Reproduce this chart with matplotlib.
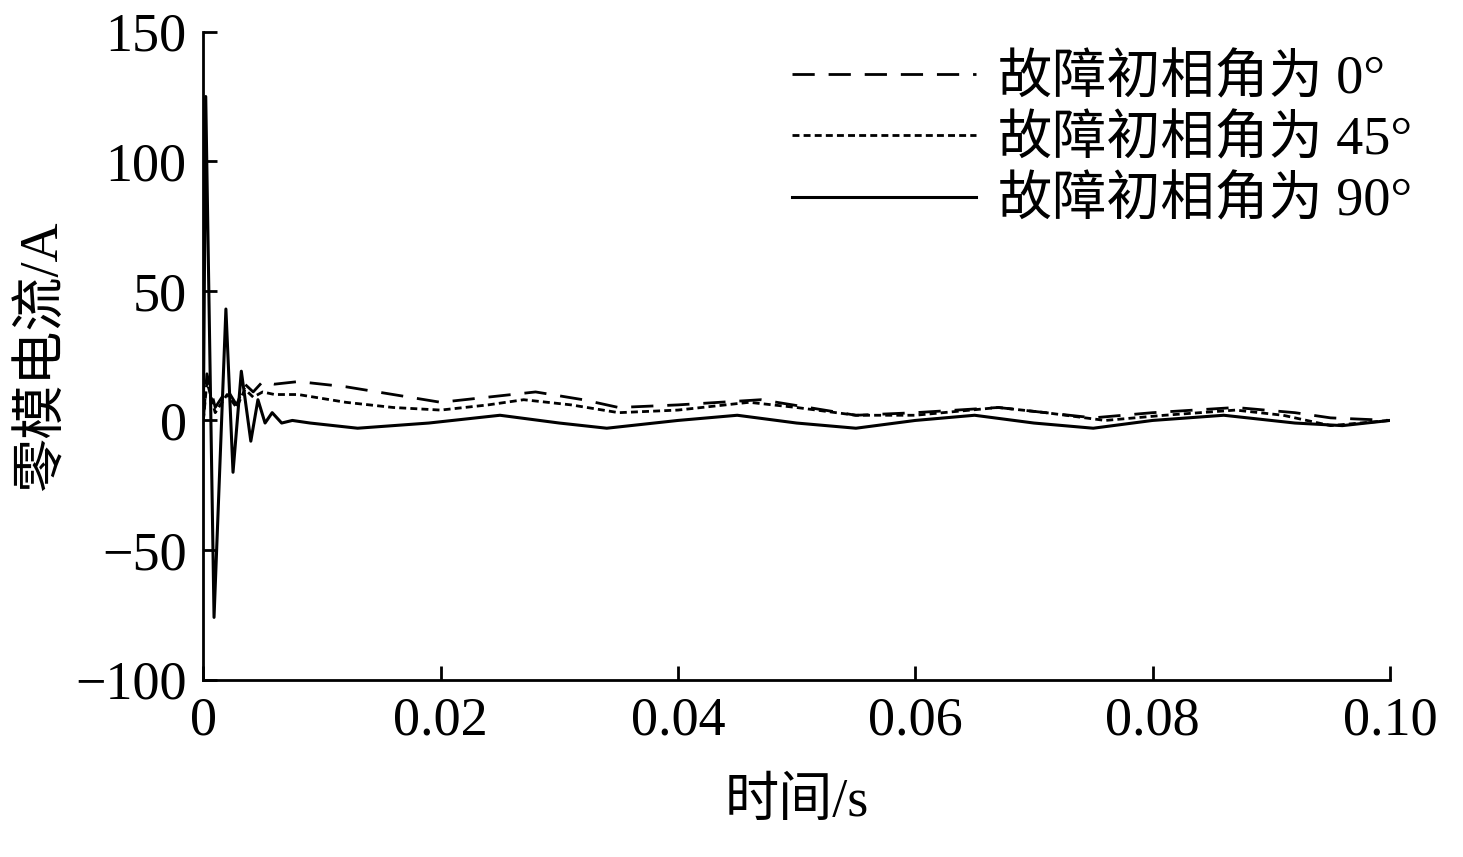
import matplotlib
matplotlib.use("Agg")
import matplotlib.pyplot as plt

plt.rcParams['font.family'] = ['Liberation Serif', 'Noto Sans CJK SC']

t90 = [0, 0.0002, 0.0009, 0.0019, 0.0025, 0.0032, 0.0040, 0.0046, 0.0052, 0.0058, 0.0066, 0.0075,
       0.009, 0.013, 0.019, 0.025, 0.030, 0.034, 0.040, 0.045, 0.050, 0.055, 0.060, 0.065, 0.070,
       0.075, 0.080, 0.086, 0.092, 0.096, 0.100]
i90 = [0, 125, -76, 43, -20, 19, -8, 8, -1, 3, -1, 0,
       -1, -3, -1, 2, -1, -3, 0, 2, -1, -3, 0, 2, -1,
       -3, 0, 2, -1, -2, 0]

t0 = [0, 0.0003, 0.001, 0.002, 0.0028, 0.0035, 0.0042, 0.005, 0.006, 0.008, 0.012, 0.016, 0.020,
      0.024, 0.028, 0.032, 0.035, 0.040, 0.047, 0.051, 0.055, 0.060, 0.067, 0.071, 0.075, 0.080,
      0.087, 0.092, 0.095, 0.100]
i0 = [0, 18, 5, 12, 6, 14, 11, 15, 14, 15, 13, 10, 7,
      9, 11, 8, 5, 6, 8, 5, 2, 3, 5, 3, 1, 3,
      5, 3, 1, 0]

t45 = [0, 0.0003, 0.001, 0.002, 0.0028, 0.0035, 0.0042, 0.005, 0.006, 0.008, 0.012, 0.016, 0.020,
       0.024, 0.027, 0.031, 0.035, 0.040, 0.046, 0.050, 0.055, 0.060, 0.067, 0.071, 0.076, 0.081,
       0.087, 0.091, 0.095, 0.100]
i45 = [0, 15, 3, 10, 5, 12, 9, 11, 10, 10, 7, 5, 4,
       6, 8, 6, 3, 4, 7, 5, 2, 2, 5, 3, 0, 2,
       4, 2, -2, 0]

labels = ['故障初相角为 0°', '故障初相角为 45°', '故障初相角为 90°']

fig = plt.figure(figsize=(14.63, 8.57), dpi=100)
ax = fig.add_axes([0.139, 0.207, 0.811, 0.756])
ax.plot(t0, i0, color='black', lw=2, dashes=(8, 5), label=labels[0])
ax.plot(t45, i45, color='black', lw=2, dashes=(2.5, 1.5), label=labels[1])
ax.plot(t90, i90, color='black', lw=2.2, label=labels[2])

ax.set_xlim(0, 0.10)
ax.set_ylim(-100, 150)
ax.set_xticks([0, 0.02, 0.04, 0.06, 0.08, 0.10])
ax.set_xticklabels(['0', '0.02', '0.04', '0.06', '0.08', '0.10'])
ax.set_yticks([-100, -50, 0, 50, 100, 150])
ax.set_yticklabels(['−100', '−50', '0', '50', '100', '150'])
for s in ['top', 'right']:
    ax.spines[s].set_visible(False)
for s in ['left', 'bottom']:
    ax.spines[s].set_linewidth(2)
ax.tick_params(direction='in', length=10, width=2, labelsize=39, pad=12)
ax.set_xlabel('时间/s', fontsize=39, labelpad=22)
ax.set_ylabel('零模电流/A', fontsize=39, labelpad=5)
leg = ax.legend(loc='upper right', fontsize=39, frameon=False, handlelength=3.4,
                handletextpad=0.4, labelspacing=0.2, bbox_to_anchor=(1.06, 1.04))
fig.savefig('out.png', dpi=100)
